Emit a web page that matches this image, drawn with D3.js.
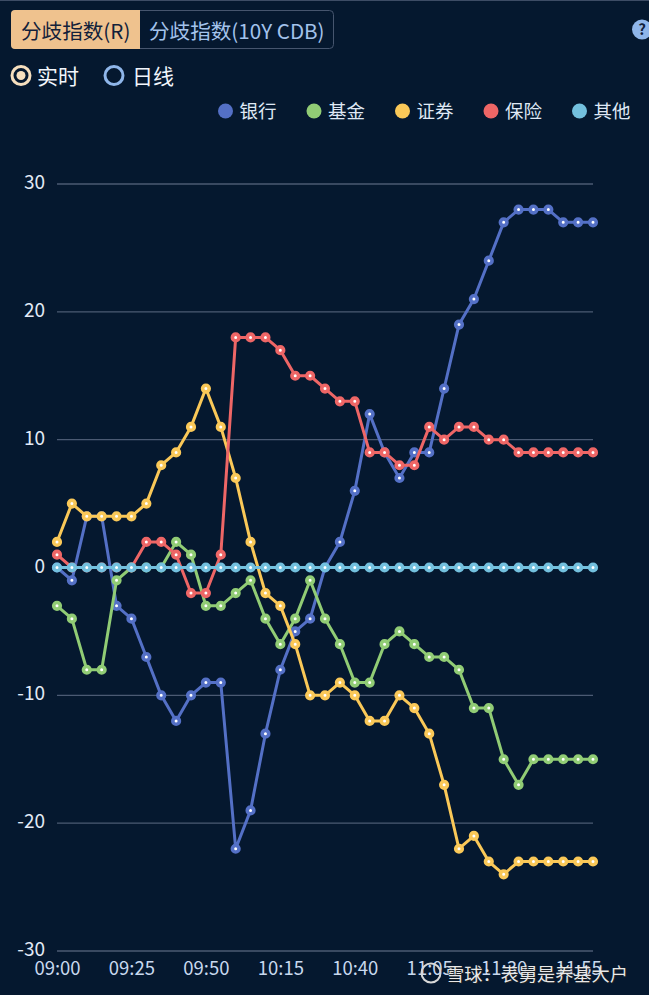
<!DOCTYPE html>
<html>
<head>
<meta charset="utf-8">
<script src="https://cdn.jsdelivr.net/npm/d3@7"></script>
<style>
html, body { margin: 0; padding: 0; background: #05182f; }
svg { display: block; }
text { font-family: "Noto Sans CJK SC", "Noto Sans", sans-serif; }
</style>
</head>
<body>
<svg id="main" width="649" height="995"></svg>
<script>
var times = ["09:00","09:05","09:10","09:15","09:20","09:25","09:30","09:35","09:40","09:45",
  "09:50","09:55","10:00","10:05","10:10","10:15","10:20","10:25","10:30","10:35",
  "10:40","10:45","10:50","10:55","11:00","11:05","11:10","11:15","11:20","11:25",
  "11:30","11:35","11:40","11:45","11:50","11:55","12:00"];
var timeTicks = ["09:00","09:25","09:50","10:15","10:40","11:05","11:30","11:55"];
var valueTicks = [30, 20, 10, 0, -10, -20, -30];

var bank = [0,-1,4,4,-3,-4,-7,-10,-12,-10,-9,-9,-22,-19,-13,-8,-5,-4,0,2,6,12,9,7,9,9,14,19,21,24,27,28,28,28,27,27,27];
var fund = [-3,-4,-8,-8,-1,0,0,0,2,1,-3,-3,-2,-1,-4,-6,-4,-1,-4,-6,-9,-9,-6,-5,-6,-7,-7,-8,-11,-11,-15,-17,-15,-15,-15,-15,-15];
var broker = [2,5,4,4,4,4,5,8,9,11,14,11,7,2,-2,-3,-6,-10,-10,-9,-10,-12,-12,-10,-11,-13,-17,-22,-21,-23,-24,-23,-23,-23,-23,-23,-23];
var insurer = [1,0,0,0,0,0,2,2,1,-2,-2,1,18,18,18,17,15,15,14,13,13,9,9,8,8,11,10,11,11,10,10,9,9,9,9,9,9];
var other = [0,0,0,0,0,0,0,0,0,0,0,0,0,0,0,0,0,0,0,0,0,0,0,0,0,0,0,0,0,0,0,0,0,0,0,0,0];

var seriesNames = ["银行","基金","证券","保险","其他"];
var seriesValues = [bank, fund, broker, insurer, other];
var seriesColors = ["#5470c6","#91cc75","#fac858","#ee6666","#73c0de"];
var tabLabels = ["分歧指数(R)","分歧指数(10Y CDB)"];
var radioLabels = ["实时","日线"];
var watermark = "雪球：表舅是养基大户";

var svg = d3.select("#main");

// top edge of the page
svg.append("rect").attr("width", 649).attr("height", 1).attr("fill", "#3d4c65");

// tabs
svg.append("rect").attr("x", 11.5).attr("y", 10.5).attr("width", 322).attr("height", 38).attr("rx", 4)
  .attr("fill", "none").attr("stroke", "#46556e");
svg.append("path").attr("d", "M140 10H15a4 4 0 0 0 -4 4V45a4 4 0 0 0 4 4H140Z").attr("fill", "#efc28e");
svg.append("text").attr("x", 21).attr("y", 38.5).attr("font-size", 20.6).attr("fill", "#12213a").text(tabLabels[0]);
svg.append("text").attr("x", 149).attr("y", 38.5).attr("font-size", 20.6).attr("fill", "#a3c3ec").text(tabLabels[1]);

// radios
svg.append("circle").attr("cx", 21).attr("cy", 75.5).attr("r", 9).attr("fill", "none").attr("stroke", "#f6dfbe").attr("stroke-width", 3);
svg.append("circle").attr("cx", 21).attr("cy", 75.5).attr("r", 4.5).attr("fill", "#f6dfbe");
svg.append("text").attr("x", 37).attr("y", 83.5).attr("font-size", 21).attr("fill", "#f2f6fc").text(radioLabels[0]);
svg.append("circle").attr("cx", 114).attr("cy", 75.5).attr("r", 9).attr("fill", "none").attr("stroke", "#8fb6ea").attr("stroke-width", 3);
svg.append("text").attr("x", 132).attr("y", 83.5).attr("font-size", 21).attr("fill", "#f2f6fc").text(radioLabels[1]);

// help icon
svg.append("circle").attr("cx", 642).attr("cy", 29.5).attr("r", 10).attr("fill", "#8fb6ea");
svg.append("text").attr("x", 642).attr("y", 35).attr("text-anchor", "middle").attr("font-size", 15)
  .attr("font-weight", "bold").attr("fill", "#12213a").text("?");

// legend
var legend = svg.selectAll("g.legend").data(seriesNames).enter().append("g")
  .attr("class", "legend")
  .attr("transform", function(d, i) { return "translate(" + (225.5 + i * 88.5) + ",111)"; });
legend.append("circle").attr("r", 7.5).attr("fill", function(d, i) { return seriesColors[i]; });
legend.append("text").attr("x", 14).attr("y", 6.5).attr("font-size", 18.5).attr("fill", "#dfe8f5").text(function(d) { return d; });

// scales
var x = d3.scalePoint().domain(times).range([57, 593]);
var y = d3.scaleLinear().domain([-30, 30]).range([951, 184]);

// y axis + grid
var yAxis = svg.append("g").attr("transform", "translate(57,-1.5)")
  .call(d3.axisLeft(y).tickValues(valueTicks).tickSize(0).tickPadding(12).tickFormat(function(d) { return String(d); }));
yAxis.select(".domain").remove();
yAxis.selectAll("text").attr("font-size", 19).attr("fill", "#e2eaf6")
  .style("font-family", '"Noto Sans CJK SC", sans-serif');
svg.append("g").selectAll("line").data(valueTicks).enter().append("line")
  .attr("x1", 57).attr("x2", 593)
  .attr("y1", function(d) { return y(d); }).attr("y2", function(d) { return y(d); })
  .attr("stroke", "#4b5a73").attr("stroke-width", 1.3);

// x axis
var xAxis = svg.append("g").attr("transform", "translate(0,952)")
  .call(d3.axisBottom(x).tickValues(timeTicks).tickSize(0).tickPadding(10));
xAxis.select(".domain").remove();
xAxis.selectAll("text").attr("font-size", 18.5).attr("fill", "#c8d8ee")
  .style("font-family", '"Noto Sans CJK SC", sans-serif');

// series
var line = d3.line().x(function(d, i) { return x(times[i]); }).y(function(d) { return y(d); });
seriesValues.forEach(function(values, s) {
  var g = svg.append("g");
  g.append("path").attr("d", line(values)).attr("fill", "none")
    .attr("stroke", seriesColors[s]).attr("stroke-width", 3).attr("stroke-linejoin", "round");
  g.selectAll("circle").data(values).enter().append("circle")
    .attr("cx", function(d, i) { return x(times[i]); })
    .attr("cy", function(d) { return y(d); })
    .attr("r", 3.3)
    .attr("fill", "#ffffff")
    .attr("stroke", seriesColors[s]).attr("stroke-width", 3.6);
});

// watermark, sits over the last tick labels like in the screenshot
var mark = svg.append("g");
mark.append("circle").attr("cx", 431).attr("cy", 973).attr("r", 9.5).attr("fill", "none").attr("stroke", "#d8d8d8").attr("stroke-width", 2);
mark.append("text").attr("x", 446).attr("y", 981).attr("font-size", 18.2).attr("fill", "#222222").attr("opacity", 0.8)
  .attr("dx", 1).attr("dy", 1).text(watermark);
mark.append("text").attr("x", 446).attr("y", 981).attr("font-size", 18.2).attr("fill", "#e8e8e8").text(watermark);
</script>
</body>
</html>
